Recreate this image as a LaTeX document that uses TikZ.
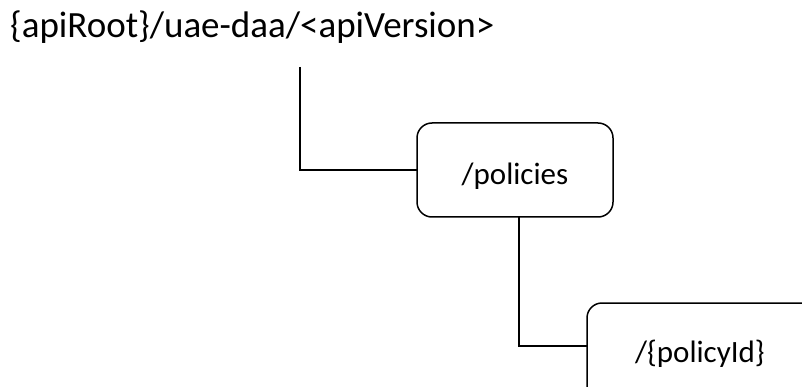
\documentclass[tikz,border=0pt]{standalone}
\usepackage{fontspec}
\setmainfont{Carlito}
\begin{document}
\begin{tikzpicture}[x=1pt,y=-1pt,
  box/.style={draw,line width=1.5pt,rounded corners=15pt},
  toplbl/.style={font=\fontsize{37}{44}\selectfont,inner sep=0pt},
  lbl/.style={font=\fontsize{31}{37}\selectfont,inner sep=0pt},
  conn/.style={draw,line width=1.5pt}]
\useasboundingbox (0,0) rectangle (802,387);
\clip (0,0) rectangle (802,387);
\node[toplbl,anchor=base west] (root) at (10,38) {\{apiRoot\}/uae-daa/<apiVersion>};
\coordinate (rootdrop) at (300,67);
\draw[box] (417,123) rectangle (613,217);
\node[lbl,anchor=base] (pol) at (515,185) {/policies};
\coordinate (polL) at (417,170);
\coordinate (polB) at (519,217);
\draw[box] (587,303) rectangle (815,400);
\node[lbl,anchor=base] (pid) at (700,362) {/\{policyId\}};
\coordinate (pidL) at (587,346);
\draw[conn] (rootdrop) |- (polL);
\draw[conn] (polB) |- (pidL);
\end{tikzpicture}
\end{document}
